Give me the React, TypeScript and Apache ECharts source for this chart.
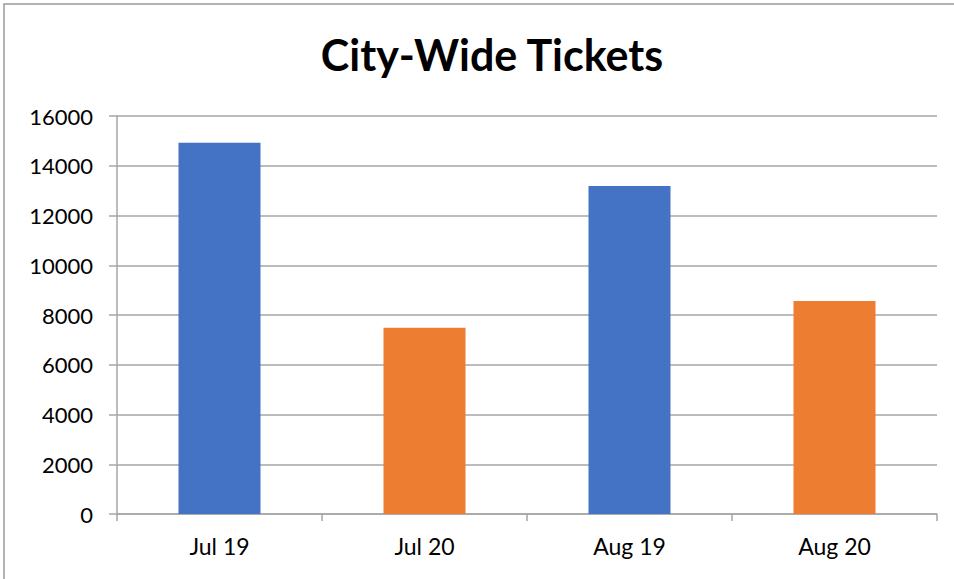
import React, { useEffect, useRef } from "react";
import * as echarts from "echarts";

const categories = ["Jul 19", "Jul 20", "Aug 19", "Aug 20"];
const values = [14920, 7490, 13190, 8560];
const barColors = ["#4472C4", "#ED7D31", "#4472C4", "#ED7D31"];
const titleText = "City-Wide Tickets";

export default function App() {
  const ref = useRef<HTMLDivElement>(null);
  useEffect(() => {
    if (!ref.current) return;
    const chart = echarts.init(ref.current, undefined, { renderer: "svg" });
    const font = "Lato, 'Noto Sans', sans-serif";
    chart.setOption({
      animation: false,
      backgroundColor: "#ffffff",
      title: {
        text: titleText,
        left: 487,
        textAlign: "center",
        top: 28,
        textStyle: { fontFamily: font, fontSize: 43, fontWeight: "bold", color: "#000" },
      },
      graphic: [
        {
          type: "rect",
          shape: { x: 4, y: 4, width: 980, height: 600 },
          style: { fill: "none", stroke: "#999999", lineWidth: 1.5 },
          silent: true,
        },
      ],
      grid: { left: 117, right: 17, top: 116, bottom: 65, containLabel: false },
      xAxis: {
        type: "category",
        data: categories,
        axisLine: { show: true, lineStyle: { color: "#A6A6A6", width: 1.5 } },
        axisTick: { show: true, alignWithLabel: false, length: 7, lineStyle: { color: "#A6A6A6", width: 1.5 } },
        axisLabel: { fontFamily: font, fontSize: 23, color: "#000", margin: 20 },
      },
      yAxis: {
        type: "value",
        min: 0,
        max: 16000,
        interval: 2000,
        axisLine: { show: true, lineStyle: { color: "#A6A6A6", width: 1.5 } },
        axisTick: { show: true, length: 8, lineStyle: { color: "#A6A6A6", width: 1.5 } },
        splitLine: { show: true, lineStyle: { color: "#A6A6A6", width: 1.5 } },
        axisLabel: {
          fontFamily: font,
          fontSize: 22,
          color: "#000",
          margin: 24,
          formatter: (v: number) => String(v),
        },
      },
      series: [
        {
          type: "bar",
          barWidth: "40%",
          data: values.map((v, i) => ({ value: v, itemStyle: { color: barColors[i] } })),
        },
      ],
    });
    return () => chart.dispose();
  }, []);
  return (
    <div
      ref={ref}
      style={{ position: "fixed", left: 0, top: 0, width: 954, height: 579 }}
    />
  );
}
